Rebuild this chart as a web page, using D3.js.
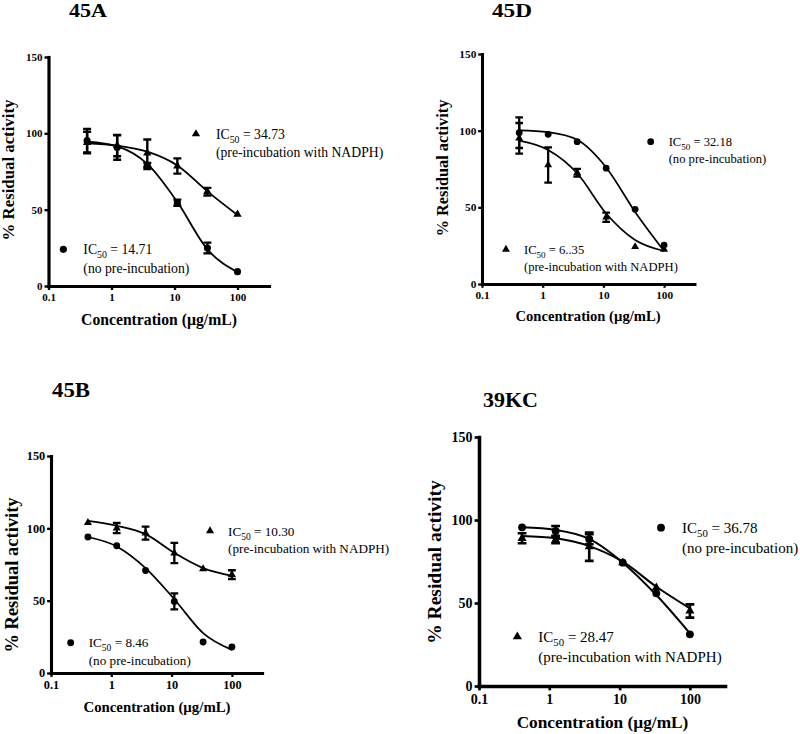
<!DOCTYPE html>
<html>
<head>
<meta charset="utf-8">
<script src="https://cdn.jsdelivr.net/npm/d3@7"></script>
<style>
  html, body { margin: 0; padding: 0; background: #ffffff; }
  svg { display: block; }
  text { font-family: "Liberation Serif", "Times New Roman", Times, "DejaVu Serif", serif; fill: #000; }
</style>
</head>
<body>
<svg id="chart" width="800" height="734"></svg>
<script>
// ---------------- DATA ----------------
const concentrations = [0.41, 1.23, 3.7, 11.1, 33.3, 100];
const panelTitles = ["45A", "45D", "45B", "39KC"];
const xTickValues = [0.1, 1, 10, 100];
const yTickValues = [0, 50, 100, 150];
const xAxisTitle = "Concentration (\u00B5g/mL)";
const yAxisTitle = "% Residual activity";
const noPreLabel = "(no pre-incubation)";
const nadphLabel = "(pre-incubation with NADPH)";

// circles: no pre-incubation
const noPreMeans = [
  [95.2, 90.7, 78.6, 54.6, 24.9, 9.4],
  [98.7, 97.6, 92.8, 75.5, 48.7, 25.4],
  [94.0, 88.0, 70.9, 49.5, 21.4, 18.0],
  [95.6, 93.4, 88.4, 74.3, 55.8, 31.1]
];
const noPreErrors = [
  [7.7, 8.0, 2.0, 2.0, 3.5, 0],
  [10.0, 0, 0, 0, 0, 0],
  [0, 0, 0, 5.5, 0, 0],
  [0, 3.0, 3.0, 0, 0, 0]
];
// triangles: pre-incubation with NADPH
const nadphMeans = [
  [94.0, 92.0, 87.0, 78.6, 61.8, 47.0],
  [95.0, 77.6, 72.6, 43.5, 24.3, 22.6],
  [104.0, 100.2, 96.7, 82.9, 72.0, 68.0],
  [89.0, 88.0, 83.9, 74.3, 59.2, 45.2]
];
const nadphErrors = [
  [7.0, 7.0, 9.0, 5.0, 2.5, 0],
  [10.0, 11.5, 2.5, 3.0, 0, 0],
  [0, 3.5, 4.5, 7.0, 0, 3.0],
  [3.0, 2.0, 8.5, 0, 0, 4.0]
];
// fitted curves read at the tested concentrations
const noPreFits = [
  [94.5, 91.5, 80.0, 55.0, 24.0, 9.0],
  [100.2, 99.0, 94.0, 76.0, 47.0, 21.5],
  [94.0, 87.5, 72.5, 51.0, 27.6, 16.0],
  [95.6, 94.0, 88.6, 74.3, 54.8, 31.7]
];
const nadphFits = [
  [93.5, 92.0, 88.0, 79.0, 62.0, 46.5],
  [93.5, 87.4, 72.2, 46.0, 28.7, 21.5],
  [105.2, 101.8, 96.0, 83.0, 72.5, 67.2],
  [90.4, 89.0, 84.3, 74.9, 59.8, 46.8]
];
const noPreIC50 = ["14.71", "32.18", "8.46", "36.78"];
const nadphIC50 = ["34.73", "6..35", "10.30", "28.47"];

// ---------------- LAYOUT ----------------
const FONT = "\"Liberation Serif\", \"Times New Roman\", Times, \"DejaVu Serif\", serif";
const layout = [
  { x0: 48.5, dec: 63.0, y0: 286, yTop: 57, title: [88, 17, 19, 38], xLab: [159, 325, 15.7], yLab: [14, 170, 16.8],
    tickFs: 11, legFs: 13.7, lh: 18.5, legOff: 20, noPreLeg: [0.172, 24], nadphLeg: [21.9, 99.6], k: 1.0 },
  { x0: 482, dec: 60.7, y0: 284, yTop: 54, title: [512, 17, 19, 40], xLab: [588, 321, 14.6], yLab: [448, 168, 16.3],
    tickFs: 11.3, legFs: 12.6, lh: 17, legOff: 18, noPreLeg: [60.1, 92.8], nadphLeg: [0.248, 22.6], k: 0.95 },
  { x0: 51, dec: 60.3, y0: 673, yTop: 456, title: [71, 397, 21, 38], xLab: [157, 712, 14.8], yLab: [18, 575, 18.5],
    tickFs: 12.3, legFs: 13.2, lh: 17.5, legOff: 18, noPreLeg: [0.212, 20.9], nadphLeg: [43.4, 98.2], k: 0.97 },
  { x0: 479, dec: 70.3, y0: 686, yTop: 437, title: [510.5, 407, 21, 55], xLab: [602.5, 728, 17.3], yLab: [441, 562, 19.5],
    tickFs: 14, legFs: 15, lh: 20, legOff: 21, noPreLeg: [38.8, 95.4], nadphLeg: [0.351, 29.7], k: 1.1 }
];

const svg = d3.select("#chart");
svg.append("rect").attr("width", 800).attr("height", 734).attr("fill", "#fff");

panelTitles.forEach((title, i) => {
  const L = layout[i];
  const k = L.k;
  const x = d3.scaleLog().domain([0.1, Math.pow(10, 2.5)]).range([L.x0, L.x0 + 3.5 * L.dec]);
  const y = d3.scaleLinear().domain([0, 150]).range([L.y0, L.yTop]);
  const g = svg.append("g").attr("font-family", FONT);

  // Title
  g.append("text").attr("x", L.title[0]).attr("y", L.title[1]).attr("font-family", FONT)
    .attr("text-anchor", "middle").attr("font-weight", "bold").attr("font-size", L.title[2])
    .attr("textLength", L.title[3]).attr("lengthAdjust", "spacingAndGlyphs").text(title);

  // Axes
  const xAxis = d3.axisBottom(x).tickValues(xTickValues).tickFormat(d => String(d))
    .tickSize(4 * k).tickSizeOuter(0).tickPadding(3 * k);
  const yAxis = d3.axisLeft(y).tickValues(yTickValues).tickFormat(d3.format("d"))
    .tickSize(4 * k).tickSizeOuter(0).tickPadding(2 * k);

  const gx = g.append("g").attr("transform", `translate(0,${L.y0})`).call(xAxis);
  const gy = g.append("g").attr("transform", `translate(${L.x0},0)`).call(yAxis);
  [gx, gy].forEach(ax => {
    ax.attr("font-family", FONT);
    ax.select(".domain").attr("stroke", "#000").attr("stroke-width", 3.2 * k).attr("stroke-linecap", "square");
    ax.selectAll(".tick line").attr("stroke", "#000").attr("stroke-width", 2.4 * k);
    ax.selectAll(".tick text").attr("fill", "#000").attr("font-weight", "bold")
      .attr("font-size", L.tickFs).attr("font-family", FONT);
  });

  // Axis titles
  g.append("text").attr("x", L.xLab[0]).attr("y", L.xLab[1]).attr("text-anchor", "middle").attr("font-family", FONT)
    .attr("font-weight", "bold").attr("font-size", L.xLab[2]).text(xAxisTitle);
  g.append("text").attr("transform", `translate(${L.yLab[0]},${L.yLab[1]}) rotate(-90)`).attr("font-family", FONT)
    .attr("text-anchor", "middle").attr("font-weight", "bold").attr("font-size", L.yLab[2]).text(yAxisTitle);

  // Fitted curves
  const line = d3.line().x(d => x(d[0])).y(d => y(d[1])).curve(d3.curveMonotoneX);
  [noPreFits[i], nadphFits[i]].forEach(fit => {
    g.append("path").datum(concentrations.map((c, j) => [c, fit[j]]))
      .attr("d", line).attr("fill", "none").attr("stroke", "#000").attr("stroke-width", 1.8 * k);
  });

  // Error bars + markers
  const circleSym = d3.symbol().type(d3.symbolCircle).size(40 * k * k);
  const triSym = d3.symbol().type(d3.symbolTriangle).size(30 * k * k);
  const series = [
    { means: noPreMeans[i], errs: noPreErrors[i], sym: circleSym },
    { means: nadphMeans[i], errs: nadphErrors[i], sym: triSym }
  ];
  series.forEach(s => {
    concentrations.forEach((c, j) => {
      const cx = x(c), m = s.means[j], e = s.errs[j];
      if (e > 0) {
        const top = y(m + e), bot = y(m - e), hw = 4 * k;
        g.append("path")
          .attr("d", `M${cx},${top}V${bot}M${cx - hw},${top}H${cx + hw}M${cx - hw},${bot}H${cx + hw}`)
          .attr("stroke", "#000").attr("stroke-width", 2.4 * k).attr("fill", "none");
      }
      g.append("path").attr("d", s.sym()).attr("transform", `translate(${cx},${y(m)})`).attr("fill", "#000");
    });
  });

  // Legends
  const legends = [
    { pos: L.noPreLeg, sym: circleSym, ic: noPreIC50[i], label: noPreLabel },
    { pos: L.nadphLeg, sym: triSym, ic: nadphIC50[i], label: nadphLabel }
  ];
  legends.forEach(lg => {
    const mx = x(lg.pos[0]), my = y(lg.pos[1]);
    g.append("path").attr("d", lg.sym()).attr("transform", `translate(${mx},${my})`).attr("fill", "#000");
    const t = g.append("text").attr("x", mx + L.legOff).attr("y", my + L.legFs * 0.35)
      .attr("font-size", L.legFs).attr("font-family", FONT);
    t.append("tspan").text("IC");
    t.append("tspan").attr("dy", L.legFs * 0.3).attr("font-size", L.legFs * 0.72).text("50");
    t.append("tspan").attr("dy", -L.legFs * 0.3).text(" = " + lg.ic);
    g.append("text").attr("x", mx + L.legOff).attr("y", my + L.legFs * 0.35 + L.lh).attr("font-family", FONT)
      .attr("font-size", L.legFs).text(lg.label);
  });
});
</script>
</body>
</html>
